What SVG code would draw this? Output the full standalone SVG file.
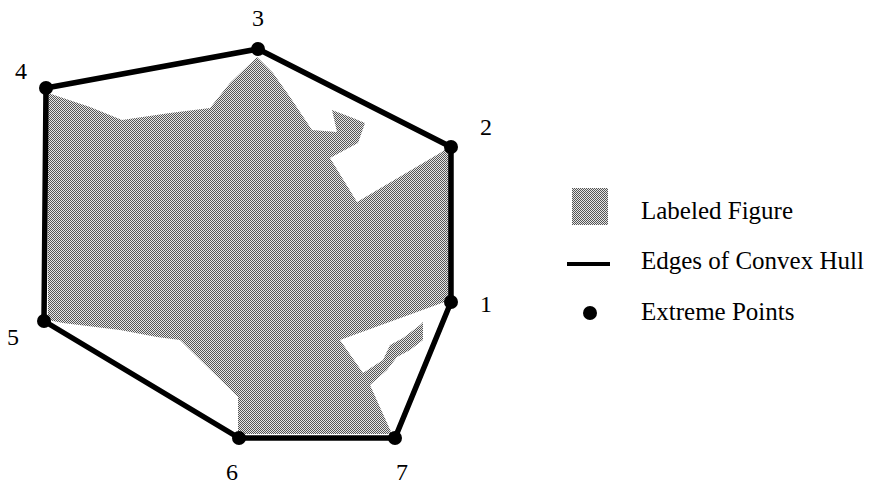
<svg xmlns="http://www.w3.org/2000/svg" width="871" height="485" viewBox="0 0 871 485">
<style>
.lbl{font-family:"Liberation Serif","Times New Roman",serif;font-size:25px;fill:#000}
.num{font-family:"Liberation Serif","Times New Roman",serif;font-size:24px;fill:#000;text-anchor:middle}
.hull{fill:none;stroke:#000;stroke-width:5.5;stroke-linejoin:round;stroke-linecap:round}
.fig{fill:url(#dither);stroke:none}
.pt{fill:#000}
</style>
<defs>
<pattern id="dither" patternUnits="userSpaceOnUse" x="0" y="0" width="2" height="2">
<rect x="0" y="0" width="2" height="2" fill="#e6e6e6"/>
<rect x="0" y="0" width="1" height="1" fill="#555"/>
<rect x="1" y="1" width="1" height="1" fill="#555"/>
</pattern>
</defs>
<rect width="871" height="485" fill="#fff"/>
<g id="figure">
<polygon class="fig" points="48,93 90,107 122,120 170,113 210,108 230,83 257,57 273,73 290,97 312,130 337,132 332,110 353,118 365,123 358,143 330,158 357,202 440,153 450,146 450,300 340,340 363,373 383,360 390,345 403,338 420,325 423,322 423,340 410,350 397,357 387,370 370,385 392,434 238,434 238,397 180,340 157,337 120,330 63,323 48,320"/>
</g>
<g id="connectors">
<polygon class="hull" points="451,302 451,147 258,49 46,88 44,321 239,438 395,438"/>
</g>
<g id="p1"><circle class="pt" cx="451" cy="302" r="7"/><text class="num" x="486" y="312">1</text></g>
<g id="p2"><circle class="pt" cx="451" cy="147" r="7"/><text class="num" x="486" y="135">2</text></g>
<g id="p3"><circle class="pt" cx="258" cy="49" r="7"/><text class="num" x="258" y="26">3</text></g>
<g id="p4"><circle class="pt" cx="46" cy="88" r="7"/><text class="num" x="21" y="79">4</text></g>
<g id="p5"><circle class="pt" cx="44" cy="321" r="7"/><text class="num" x="13" y="345">5</text></g>
<g id="p6"><circle class="pt" cx="239" cy="438" r="7"/><text class="num" x="232" y="480">6</text></g>
<g id="p7"><circle class="pt" cx="395" cy="438" r="7"/><text class="num" x="402" y="480">7</text></g>
<g id="legend">
<rect class="fig" x="572" y="188" width="36" height="37"/>
<text class="lbl" x="641" y="219">Labeled Figure</text>
<line x1="567" y1="264" x2="610" y2="264" stroke="#000" stroke-width="4"/>
<text class="lbl" x="641" y="269">Edges of Convex Hull</text>
<circle class="pt" cx="590" cy="313" r="7"/>
<text class="lbl" x="641" y="320">Extreme Points</text>
</g>
</svg>
